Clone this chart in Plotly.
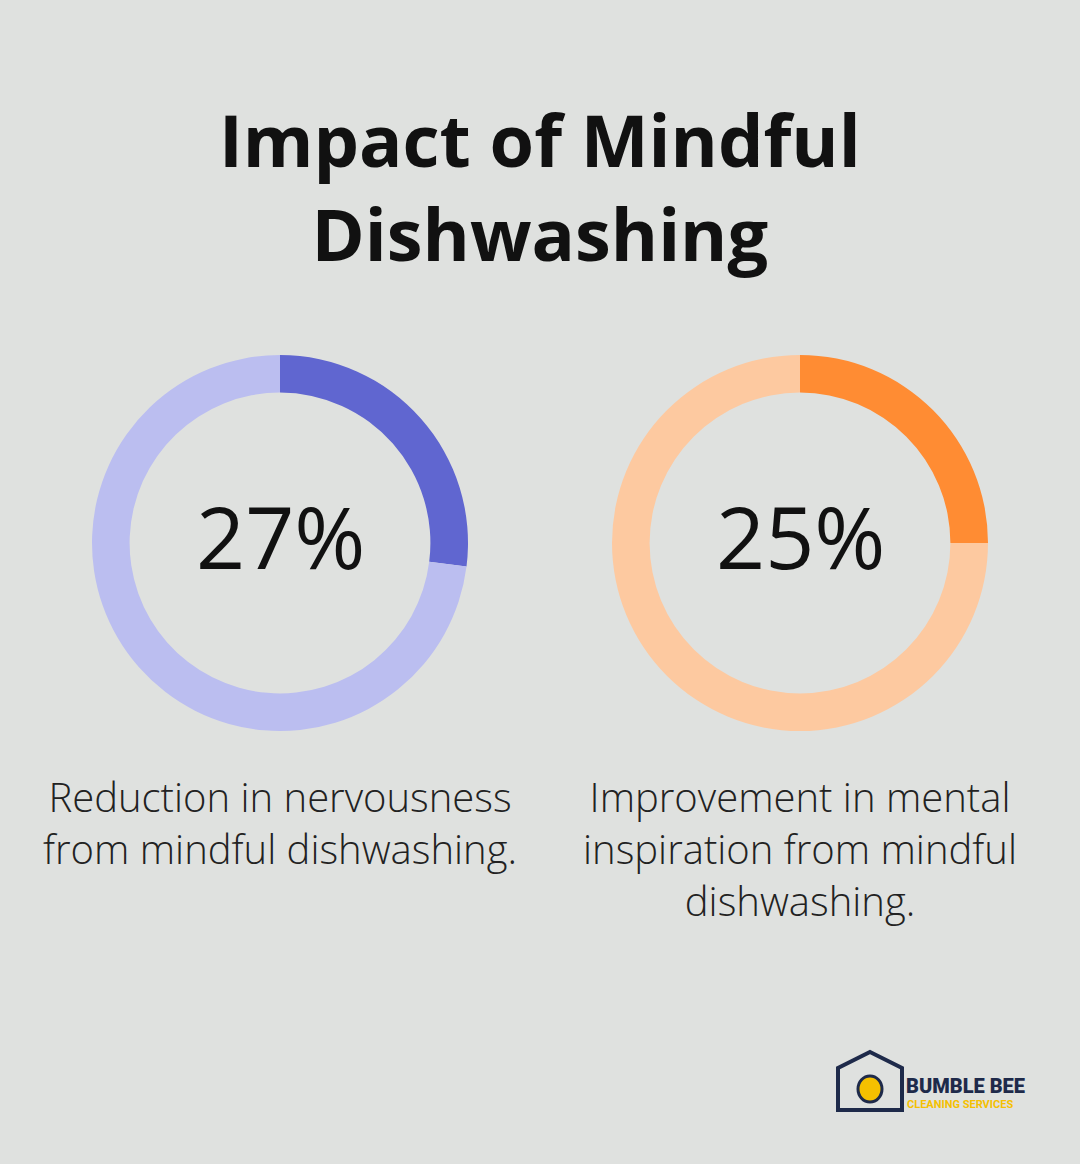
import plotly.graph_objects as go

labels = ["Value", "Remainder"]
left_vals = [27, 73]
right_vals = [25, 75]
left_text = "27%"
right_text = "25%"
left_caption = "Reduction in nervousness<br>from mindful dishwashing."
right_caption = "Improvement in mental<br>inspiration from mindful<br>dishwashing."
title = "Impact of Mindful<br>Dishwashing"

W, H = 1080, 1164
def px(x): return x / W
def py(y): return 1 - y / H

fig = go.Figure()
for vals, cols, x0, x1 in [(left_vals, ["#6066d0", "#bbbef0"], 92, 468),
                           (right_vals, ["#ff8c33", "#fdc9a0"], 612, 988)]:
    fig.add_trace(go.Pie(values=vals, labels=labels, hole=0.8, sort=False,
                         direction="clockwise", rotation=0,
                         marker=dict(colors=cols, line=dict(width=0)),
                         textinfo="none", hoverinfo="skip", showlegend=False,
                         domain=dict(x=[px(x0), px(x1)], y=[py(731), py(355)])))

ann = []
ann.append(dict(text=title, x=0.5, y=py(186), font=dict(size=72, family="Open Sans", color="#111", weight=700)))
ann.append(dict(text=left_text, x=px(280), y=py(536), font=dict(size=86, family="Open Sans", color="#111")))
ann.append(dict(text=right_text, x=px(800), y=py(536), font=dict(size=86, family="Open Sans", color="#111")))
ann.append(dict(text=left_caption, x=px(280), y=py(822), font=dict(size=40, family="Open Sans", color="#222", weight=300)))
ann.append(dict(text=right_caption, x=px(800), y=py(848), font=dict(size=40, family="Open Sans", color="#222", weight=300)))
ann.append(dict(text="BUMBLE BEE", x=px(904), y=py(1086), xanchor="left", font=dict(size=20, family="Roboto", color="#1e2a4a", weight=900)))
ann.append(dict(text="CLEANING SERVICES", x=px(905), y=py(1104), xanchor="left", font=dict(size=11, family="Roboto", color="#f5c000", weight=700)))
for a in ann:
    a.update(xref="paper", yref="paper", showarrow=False, align="center")
    a.setdefault("xanchor", "center")
    a["yanchor"] = "middle"

shapes = [dict(type="path", xref="paper", yref="paper",
               path=f"M {px(870)},{py(1052)} L {px(902)},{py(1068)} L {px(902)},{py(1110)} L {px(838)},{py(1110)} L {px(838)},{py(1068)} Z",
               line=dict(color="#1e2a4a", width=4), fillcolor="rgba(0,0,0,0)"),
          dict(type="circle", xref="paper", yref="paper", x0=px(858), x1=px(882), y0=py(1102), y1=py(1076),
               fillcolor="#f5c000", line=dict(color="#1e2a4a", width=3))]

fig.update_layout(width=W, height=H, margin=dict(l=0, r=0, t=0, b=0),
                  paper_bgcolor="#dfe1df", plot_bgcolor="#dfe1df",
                  annotations=ann, shapes=shapes)
fig.write_html("out.html", config={"displayModeBar": False},
               post_script="document.body.style.margin='0';document.body.style.background='#dfe1df';")
